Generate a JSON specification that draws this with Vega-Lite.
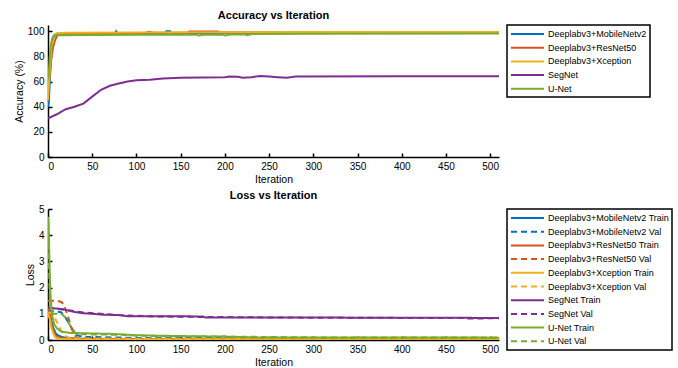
{
  "$schema": "https://vega.github.io/schema/vega-lite/v6.json",
  "padding": {"left": 14, "top": 10, "right": 4, "bottom": 0},
  "background": "white",
  "spacing": 5,
  "config": {
    "font": "Liberation Sans",
    "view": {"stroke": null},
    "axis": {"domainColor": "black", "domainWidth": 1.5, "tickColor": "black", "tickWidth": 1.5, "tickSize": -4, "labelColor": "black", "labelFontSize": 10, "labelFont": "Liberation Sans", "titleColor": "black", "titleFont": "Liberation Sans", "titleFontSize": 10.5, "titleFontWeight": "normal", "grid": false, "labelPadding": 8, "titlePadding": 3},
    "title": {"fontSize": 11, "fontWeight": "bold", "color": "black", "offset": 3, "font": "Liberation Sans"},
    "legend": {"orient": "right", "offset": 8, "padding": 3, "strokeColor": "black", "strokeWidth": 1.5, "fillColor": "white", "symbolType": "M-1,0H5.6", "symbolStrokeWidth": 2, "symbolSize": 100, "labelFontSize": 9, "labelFont": "Liberation Sans", "labelColor": "black", "rowPadding": 2.7, "labelOffset": 26, "title": null},
    "line": {"strokeWidth": 2}
  },
  "datasets": {
    "acc": [
      {"model": "Deeplabv3+MobileNetv2", "iteration": 0, "accuracy": 40},
      {"model": "Deeplabv3+MobileNetv2", "iteration": 1, "accuracy": 45},
      {"model": "Deeplabv3+MobileNetv2", "iteration": 2, "accuracy": 60},
      {"model": "Deeplabv3+MobileNetv2", "iteration": 3, "accuracy": 75},
      {"model": "Deeplabv3+MobileNetv2", "iteration": 4, "accuracy": 88},
      {"model": "Deeplabv3+MobileNetv2", "iteration": 5, "accuracy": 94},
      {"model": "Deeplabv3+MobileNetv2", "iteration": 6, "accuracy": 96},
      {"model": "Deeplabv3+MobileNetv2", "iteration": 8, "accuracy": 97.5},
      {"model": "Deeplabv3+MobileNetv2", "iteration": 10, "accuracy": 98},
      {"model": "Deeplabv3+MobileNetv2", "iteration": 20, "accuracy": 98.3},
      {"model": "Deeplabv3+MobileNetv2", "iteration": 76, "accuracy": 98.5},
      {"model": "Deeplabv3+MobileNetv2", "iteration": 77, "accuracy": 100},
      {"model": "Deeplabv3+MobileNetv2", "iteration": 79, "accuracy": 98.5},
      {"model": "Deeplabv3+MobileNetv2", "iteration": 133, "accuracy": 98.6},
      {"model": "Deeplabv3+MobileNetv2", "iteration": 134, "accuracy": 100},
      {"model": "Deeplabv3+MobileNetv2", "iteration": 138, "accuracy": 100},
      {"model": "Deeplabv3+MobileNetv2", "iteration": 139, "accuracy": 98.7},
      {"model": "Deeplabv3+MobileNetv2", "iteration": 300, "accuracy": 98.9},
      {"model": "Deeplabv3+MobileNetv2", "iteration": 510, "accuracy": 99},
      {"model": "Deeplabv3+ResNet50", "iteration": 0, "accuracy": 50},
      {"model": "Deeplabv3+ResNet50", "iteration": 2, "accuracy": 65},
      {"model": "Deeplabv3+ResNet50", "iteration": 4, "accuracy": 80},
      {"model": "Deeplabv3+ResNet50", "iteration": 6, "accuracy": 88},
      {"model": "Deeplabv3+ResNet50", "iteration": 8, "accuracy": 93},
      {"model": "Deeplabv3+ResNet50", "iteration": 10, "accuracy": 96},
      {"model": "Deeplabv3+ResNet50", "iteration": 12, "accuracy": 97.5},
      {"model": "Deeplabv3+ResNet50", "iteration": 15, "accuracy": 98},
      {"model": "Deeplabv3+ResNet50", "iteration": 110, "accuracy": 98.6},
      {"model": "Deeplabv3+ResNet50", "iteration": 114, "accuracy": 99.6},
      {"model": "Deeplabv3+ResNet50", "iteration": 120, "accuracy": 98.8},
      {"model": "Deeplabv3+ResNet50", "iteration": 158, "accuracy": 98.9},
      {"model": "Deeplabv3+ResNet50", "iteration": 160, "accuracy": 99.8},
      {"model": "Deeplabv3+ResNet50", "iteration": 192, "accuracy": 99.8},
      {"model": "Deeplabv3+ResNet50", "iteration": 195, "accuracy": 99},
      {"model": "Deeplabv3+ResNet50", "iteration": 510, "accuracy": 99.2},
      {"model": "Deeplabv3+Xception", "iteration": 0, "accuracy": 45},
      {"model": "Deeplabv3+Xception", "iteration": 2, "accuracy": 70},
      {"model": "Deeplabv3+Xception", "iteration": 4, "accuracy": 88},
      {"model": "Deeplabv3+Xception", "iteration": 6, "accuracy": 95},
      {"model": "Deeplabv3+Xception", "iteration": 8, "accuracy": 97.5},
      {"model": "Deeplabv3+Xception", "iteration": 10, "accuracy": 98.5},
      {"model": "Deeplabv3+Xception", "iteration": 20, "accuracy": 98.8},
      {"model": "Deeplabv3+Xception", "iteration": 100, "accuracy": 99},
      {"model": "Deeplabv3+Xception", "iteration": 200, "accuracy": 99.2},
      {"model": "Deeplabv3+Xception", "iteration": 300, "accuracy": 99.4},
      {"model": "Deeplabv3+Xception", "iteration": 510, "accuracy": 99.5},
      {"model": "SegNet", "iteration": 0, "accuracy": 30.7},
      {"model": "SegNet", "iteration": 10, "accuracy": 34},
      {"model": "SegNet", "iteration": 20, "accuracy": 38},
      {"model": "SegNet", "iteration": 30, "accuracy": 40},
      {"model": "SegNet", "iteration": 40, "accuracy": 42.5},
      {"model": "SegNet", "iteration": 50, "accuracy": 48},
      {"model": "SegNet", "iteration": 60, "accuracy": 53.5},
      {"model": "SegNet", "iteration": 70, "accuracy": 56.7},
      {"model": "SegNet", "iteration": 80, "accuracy": 58.5},
      {"model": "SegNet", "iteration": 90, "accuracy": 60},
      {"model": "SegNet", "iteration": 100, "accuracy": 61},
      {"model": "SegNet", "iteration": 115, "accuracy": 61.5},
      {"model": "SegNet", "iteration": 130, "accuracy": 62.5},
      {"model": "SegNet", "iteration": 150, "accuracy": 63},
      {"model": "SegNet", "iteration": 200, "accuracy": 63.5},
      {"model": "SegNet", "iteration": 205, "accuracy": 64},
      {"model": "SegNet", "iteration": 215, "accuracy": 63.8},
      {"model": "SegNet", "iteration": 220, "accuracy": 63},
      {"model": "SegNet", "iteration": 230, "accuracy": 63.5},
      {"model": "SegNet", "iteration": 240, "accuracy": 64.5},
      {"model": "SegNet", "iteration": 250, "accuracy": 64},
      {"model": "SegNet", "iteration": 260, "accuracy": 63.5},
      {"model": "SegNet", "iteration": 270, "accuracy": 63},
      {"model": "SegNet", "iteration": 280, "accuracy": 64},
      {"model": "SegNet", "iteration": 400, "accuracy": 64.2},
      {"model": "SegNet", "iteration": 510, "accuracy": 64.3},
      {"model": "U-Net", "iteration": 0, "accuracy": 62},
      {"model": "U-Net", "iteration": 1, "accuracy": 68},
      {"model": "U-Net", "iteration": 2, "accuracy": 80},
      {"model": "U-Net", "iteration": 3, "accuracy": 88},
      {"model": "U-Net", "iteration": 4, "accuracy": 92},
      {"model": "U-Net", "iteration": 6, "accuracy": 95},
      {"model": "U-Net", "iteration": 8, "accuracy": 96.5},
      {"model": "U-Net", "iteration": 10, "accuracy": 96.8},
      {"model": "U-Net", "iteration": 100, "accuracy": 97.2},
      {"model": "U-Net", "iteration": 168, "accuracy": 97.3},
      {"model": "U-Net", "iteration": 170, "accuracy": 96.6},
      {"model": "U-Net", "iteration": 176, "accuracy": 97.3},
      {"model": "U-Net", "iteration": 198, "accuracy": 97.3},
      {"model": "U-Net", "iteration": 200, "accuracy": 96.7},
      {"model": "U-Net", "iteration": 206, "accuracy": 97.5},
      {"model": "U-Net", "iteration": 223, "accuracy": 97.5},
      {"model": "U-Net", "iteration": 225, "accuracy": 96.8},
      {"model": "U-Net", "iteration": 231, "accuracy": 97.8},
      {"model": "U-Net", "iteration": 300, "accuracy": 98},
      {"model": "U-Net", "iteration": 510, "accuracy": 98.3}
    ],
    "loss": [
      {"series": "Deeplabv3+MobileNetv2 Train", "iteration": 0, "loss": 1.1},
      {"series": "Deeplabv3+MobileNetv2 Train", "iteration": 2, "loss": 1.0},
      {"series": "Deeplabv3+MobileNetv2 Train", "iteration": 4, "loss": 0.7},
      {"series": "Deeplabv3+MobileNetv2 Train", "iteration": 6, "loss": 0.45},
      {"series": "Deeplabv3+MobileNetv2 Train", "iteration": 8, "loss": 0.3},
      {"series": "Deeplabv3+MobileNetv2 Train", "iteration": 10, "loss": 0.2},
      {"series": "Deeplabv3+MobileNetv2 Train", "iteration": 15, "loss": 0.12},
      {"series": "Deeplabv3+MobileNetv2 Train", "iteration": 20, "loss": 0.08},
      {"series": "Deeplabv3+MobileNetv2 Train", "iteration": 30, "loss": 0.06},
      {"series": "Deeplabv3+MobileNetv2 Train", "iteration": 50, "loss": 0.04},
      {"series": "Deeplabv3+MobileNetv2 Train", "iteration": 100, "loss": 0.03},
      {"series": "Deeplabv3+MobileNetv2 Train", "iteration": 510, "loss": 0.02},
      {"series": "Deeplabv3+MobileNetv2 Val", "iteration": 0, "loss": 1.15},
      {"series": "Deeplabv3+MobileNetv2 Val", "iteration": 5, "loss": 1.1},
      {"series": "Deeplabv3+MobileNetv2 Val", "iteration": 10, "loss": 1.1},
      {"series": "Deeplabv3+MobileNetv2 Val", "iteration": 15, "loss": 1.05},
      {"series": "Deeplabv3+MobileNetv2 Val", "iteration": 20, "loss": 0.85},
      {"series": "Deeplabv3+MobileNetv2 Val", "iteration": 25, "loss": 0.55},
      {"series": "Deeplabv3+MobileNetv2 Val", "iteration": 30, "loss": 0.3},
      {"series": "Deeplabv3+MobileNetv2 Val", "iteration": 33, "loss": 0.18},
      {"series": "Deeplabv3+MobileNetv2 Val", "iteration": 40, "loss": 0.12},
      {"series": "Deeplabv3+MobileNetv2 Val", "iteration": 100, "loss": 0.08},
      {"series": "Deeplabv3+MobileNetv2 Val", "iteration": 510, "loss": 0.05},
      {"series": "Deeplabv3+ResNet50 Train", "iteration": 0, "loss": 1.2},
      {"series": "Deeplabv3+ResNet50 Train", "iteration": 2, "loss": 1.0},
      {"series": "Deeplabv3+ResNet50 Train", "iteration": 4, "loss": 0.6},
      {"series": "Deeplabv3+ResNet50 Train", "iteration": 6, "loss": 0.35},
      {"series": "Deeplabv3+ResNet50 Train", "iteration": 8, "loss": 0.2},
      {"series": "Deeplabv3+ResNet50 Train", "iteration": 10, "loss": 0.12},
      {"series": "Deeplabv3+ResNet50 Train", "iteration": 15, "loss": 0.07},
      {"series": "Deeplabv3+ResNet50 Train", "iteration": 20, "loss": 0.05},
      {"series": "Deeplabv3+ResNet50 Train", "iteration": 50, "loss": 0.03},
      {"series": "Deeplabv3+ResNet50 Train", "iteration": 510, "loss": 0.02},
      {"series": "Deeplabv3+ResNet50 Val", "iteration": 0, "loss": 1.5},
      {"series": "Deeplabv3+ResNet50 Val", "iteration": 10, "loss": 1.5},
      {"series": "Deeplabv3+ResNet50 Val", "iteration": 15, "loss": 1.45},
      {"series": "Deeplabv3+ResNet50 Val", "iteration": 18, "loss": 1.35},
      {"series": "Deeplabv3+ResNet50 Val", "iteration": 20, "loss": 1.15},
      {"series": "Deeplabv3+ResNet50 Val", "iteration": 23, "loss": 0.85},
      {"series": "Deeplabv3+ResNet50 Val", "iteration": 26, "loss": 0.5},
      {"series": "Deeplabv3+ResNet50 Val", "iteration": 29, "loss": 0.25},
      {"series": "Deeplabv3+ResNet50 Val", "iteration": 32, "loss": 0.1},
      {"series": "Deeplabv3+ResNet50 Val", "iteration": 35, "loss": 0.06},
      {"series": "Deeplabv3+ResNet50 Val", "iteration": 100, "loss": 0.04},
      {"series": "Deeplabv3+ResNet50 Val", "iteration": 510, "loss": 0.03},
      {"series": "Deeplabv3+Xception Train", "iteration": 0, "loss": 1.0},
      {"series": "Deeplabv3+Xception Train", "iteration": 2, "loss": 0.8},
      {"series": "Deeplabv3+Xception Train", "iteration": 4, "loss": 0.45},
      {"series": "Deeplabv3+Xception Train", "iteration": 6, "loss": 0.25},
      {"series": "Deeplabv3+Xception Train", "iteration": 8, "loss": 0.12},
      {"series": "Deeplabv3+Xception Train", "iteration": 10, "loss": 0.07},
      {"series": "Deeplabv3+Xception Train", "iteration": 15, "loss": 0.04},
      {"series": "Deeplabv3+Xception Train", "iteration": 30, "loss": 0.02},
      {"series": "Deeplabv3+Xception Train", "iteration": 510, "loss": 0.01},
      {"series": "Deeplabv3+Xception Val", "iteration": 0, "loss": 1.05},
      {"series": "Deeplabv3+Xception Val", "iteration": 5, "loss": 1.0},
      {"series": "Deeplabv3+Xception Val", "iteration": 10, "loss": 0.7},
      {"series": "Deeplabv3+Xception Val", "iteration": 15, "loss": 0.35},
      {"series": "Deeplabv3+Xception Val", "iteration": 20, "loss": 0.15},
      {"series": "Deeplabv3+Xception Val", "iteration": 25, "loss": 0.08},
      {"series": "Deeplabv3+Xception Val", "iteration": 35, "loss": 0.05},
      {"series": "Deeplabv3+Xception Val", "iteration": 230, "loss": 0.04},
      {"series": "Deeplabv3+Xception Val", "iteration": 240, "loss": 0.06},
      {"series": "Deeplabv3+Xception Val", "iteration": 510, "loss": 0.06},
      {"series": "SegNet Train", "iteration": 0, "loss": 1.22},
      {"series": "SegNet Train", "iteration": 10, "loss": 1.2},
      {"series": "SegNet Train", "iteration": 20, "loss": 1.15},
      {"series": "SegNet Train", "iteration": 30, "loss": 1.07},
      {"series": "SegNet Train", "iteration": 40, "loss": 1.02},
      {"series": "SegNet Train", "iteration": 50, "loss": 1.0},
      {"series": "SegNet Train", "iteration": 60, "loss": 0.97},
      {"series": "SegNet Train", "iteration": 80, "loss": 0.95},
      {"series": "SegNet Train", "iteration": 90, "loss": 0.91},
      {"series": "SegNet Train", "iteration": 175, "loss": 0.9},
      {"series": "SegNet Train", "iteration": 178, "loss": 0.86},
      {"series": "SegNet Train", "iteration": 440, "loss": 0.85},
      {"series": "SegNet Train", "iteration": 510, "loss": 0.84},
      {"series": "SegNet Val", "iteration": 0, "loss": 1.25},
      {"series": "SegNet Val", "iteration": 20, "loss": 1.15},
      {"series": "SegNet Val", "iteration": 40, "loss": 1.05},
      {"series": "SegNet Val", "iteration": 80, "loss": 0.95},
      {"series": "SegNet Val", "iteration": 120, "loss": 0.9},
      {"series": "SegNet Val", "iteration": 175, "loss": 0.88},
      {"series": "SegNet Val", "iteration": 300, "loss": 0.85},
      {"series": "SegNet Val", "iteration": 470, "loss": 0.84},
      {"series": "SegNet Val", "iteration": 475, "loss": 0.82},
      {"series": "SegNet Val", "iteration": 510, "loss": 0.83},
      {"series": "U-Net Train", "iteration": 0, "loss": 4.7},
      {"series": "U-Net Train", "iteration": 1, "loss": 4.0},
      {"series": "U-Net Train", "iteration": 2, "loss": 2.5},
      {"series": "U-Net Train", "iteration": 3, "loss": 1.6},
      {"series": "U-Net Train", "iteration": 4, "loss": 1.2},
      {"series": "U-Net Train", "iteration": 5, "loss": 0.9},
      {"series": "U-Net Train", "iteration": 7, "loss": 0.6},
      {"series": "U-Net Train", "iteration": 10, "loss": 0.45},
      {"series": "U-Net Train", "iteration": 15, "loss": 0.32},
      {"series": "U-Net Train", "iteration": 25, "loss": 0.27},
      {"series": "U-Net Train", "iteration": 50, "loss": 0.25},
      {"series": "U-Net Train", "iteration": 75, "loss": 0.23},
      {"series": "U-Net Train", "iteration": 100, "loss": 0.18},
      {"series": "U-Net Train", "iteration": 150, "loss": 0.15},
      {"series": "U-Net Train", "iteration": 200, "loss": 0.13},
      {"series": "U-Net Train", "iteration": 230, "loss": 0.1},
      {"series": "U-Net Train", "iteration": 510, "loss": 0.09},
      {"series": "U-Net Val", "iteration": 0, "loss": 3.7},
      {"series": "U-Net Val", "iteration": 1, "loss": 3.0},
      {"series": "U-Net Val", "iteration": 2, "loss": 1.6},
      {"series": "U-Net Val", "iteration": 3, "loss": 1.2},
      {"series": "U-Net Val", "iteration": 5, "loss": 1.0},
      {"series": "U-Net Val", "iteration": 15, "loss": 1.0},
      {"series": "U-Net Val", "iteration": 20, "loss": 0.85},
      {"series": "U-Net Val", "iteration": 25, "loss": 0.55},
      {"series": "U-Net Val", "iteration": 30, "loss": 0.3},
      {"series": "U-Net Val", "iteration": 33, "loss": 0.22},
      {"series": "U-Net Val", "iteration": 80, "loss": 0.2},
      {"series": "U-Net Val", "iteration": 120, "loss": 0.15},
      {"series": "U-Net Val", "iteration": 200, "loss": 0.13},
      {"series": "U-Net Val", "iteration": 300, "loss": 0.1},
      {"series": "U-Net Val", "iteration": 510, "loss": 0.1}
    ]
  },
  "vconcat": [
    {
      "title": "Accuracy vs Iteration",
      "width": 451,
      "height": 132,
      "data": {"name": "acc"},
      "mark": {"type": "line", "strokeWidth": 2, "clip": true},
      "encoding": {
        "x": {"field": "iteration", "type": "quantitative", "scale": {"domain": [0, 510], "nice": false}, "axis": {"title": "Iteration", "values": [0, 50, 100, 150, 200, 250, 300, 350, 400, 450, 500]}},
        "y": {"field": "accuracy", "type": "quantitative", "scale": {"domain": [0, 105], "nice": false}, "axis": {"title": "Accuracy (%)", "values": [0, 20, 40, 60, 80, 100]}},
        "color": {"field": "model", "type": "nominal", "scale": {"domain": ["Deeplabv3+MobileNetv2", "Deeplabv3+ResNet50", "Deeplabv3+Xception", "SegNet", "U-Net"], "range": ["#0072BD", "#D95319", "#EDB120", "#7E2F8E", "#77AC30"]}},
        "order": {"field": "iteration", "type": "quantitative"}
      }
    },
    {
      "title": "Loss vs Iteration",
      "width": 451,
      "height": 131,
      "data": {"name": "loss"},
      "mark": {"type": "line", "strokeWidth": 2, "clip": true},
      "encoding": {
        "x": {"field": "iteration", "type": "quantitative", "scale": {"domain": [0, 510], "nice": false}, "axis": {"title": "Iteration", "values": [0, 50, 100, 150, 200, 250, 300, 350, 400, 450, 500]}},
        "y": {"field": "loss", "type": "quantitative", "scale": {"domain": [0, 5], "nice": false}, "axis": {"title": "Loss", "values": [0, 1, 2, 3, 4, 5]}},
        "color": {"field": "series", "type": "nominal", "scale": {"domain": ["Deeplabv3+MobileNetv2 Train", "Deeplabv3+MobileNetv2 Val", "Deeplabv3+ResNet50 Train", "Deeplabv3+ResNet50 Val", "Deeplabv3+Xception Train", "Deeplabv3+Xception Val", "SegNet Train", "SegNet Val", "U-Net Train", "U-Net Val"], "range": ["#0072BD", "#0072BD", "#D95319", "#D95319", "#EDB120", "#EDB120", "#7E2F8E", "#7E2F8E", "#77AC30", "#77AC30"]}},
        "strokeDash": {"field": "series", "type": "nominal", "scale": {"domain": ["Deeplabv3+MobileNetv2 Train", "Deeplabv3+MobileNetv2 Val", "Deeplabv3+ResNet50 Train", "Deeplabv3+ResNet50 Val", "Deeplabv3+Xception Train", "Deeplabv3+Xception Val", "SegNet Train", "SegNet Val", "U-Net Train", "U-Net Val"], "range": [[1, 0], [6, 4], [1, 0], [6, 4], [1, 0], [6, 4], [1, 0], [6, 4], [1, 0], [6, 4]]}},
        "order": {"field": "iteration", "type": "quantitative"}
      }
    }
  ],
  "resolve": {"scale": {"color": "independent", "strokeDash": "independent"}, "legend": {"color": "independent"}}
}
